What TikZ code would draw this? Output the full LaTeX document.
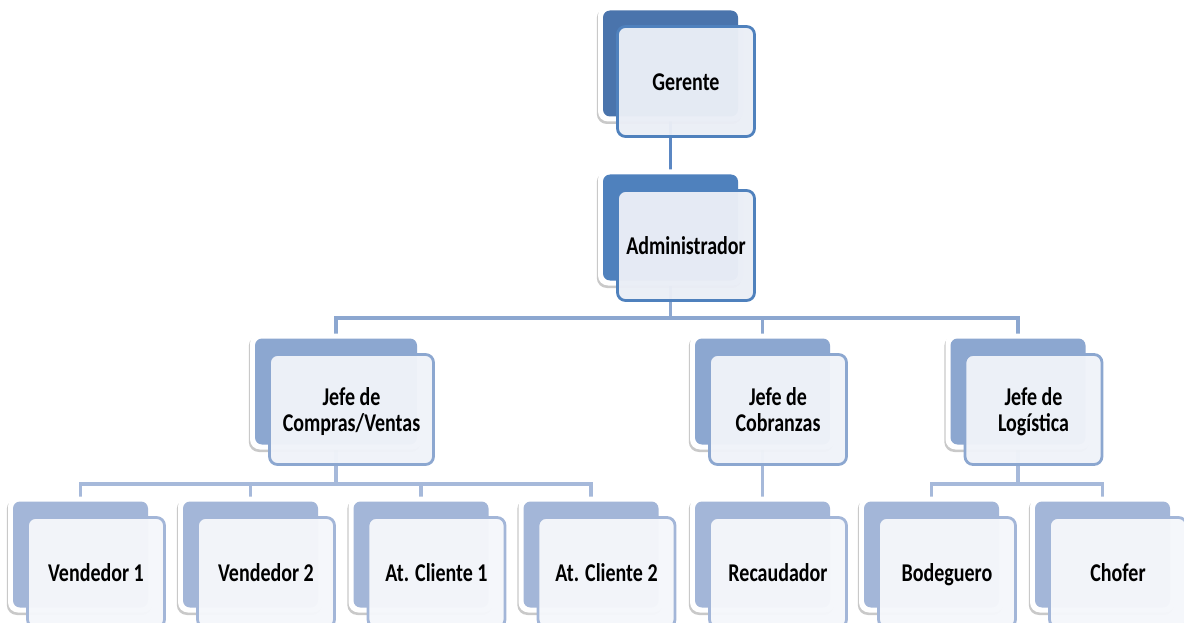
\documentclass[tikz,border=0pt]{standalone}
\usepackage{fontspec}
\setmainfont{Carlito}
\usetikzlibrary{shadows,calc}
\pgfdeclarelayer{bg}
\pgfsetlayers{bg,main}
\definecolor{back0}{HTML}{4A74AC}
\definecolor{back1}{HTML}{4F81BD}
\definecolor{back2}{HTML}{8CA7D0}
\definecolor{back3}{HTML}{A3B6D8}
\definecolor{fill0}{HTML}{EAEEF6}
\definecolor{fill2}{HTML}{F0F3F9}
\definecolor{fill3}{HTML}{F5F7FB}
\definecolor{line0}{HTML}{5B87C3}
\definecolor{line2}{HTML}{8CA7D0}
\definecolor{line3}{HTML}{A6B9DA}
\newcommand{\lbl}[1]{\raisebox{0pt}[\dimexpr\height+8pt\relax][\depth]{\scalebox{1}[1.28]{\begin{tabular}{@{}c@{}}#1\end{tabular}}}}
\begin{document}
\begin{tikzpicture}[x=1pt,y=-1pt,
  backbox/.style={rectangle, fill=white, rounded corners=10pt,
    minimum width=145pt, minimum height=116pt, inner sep=0pt,
    drop shadow={shadow xshift=-1.2pt, shadow yshift=-2.5pt, opacity=0.3, fill=black!70},
    path picture={\fill[#1, rounded corners=7pt]
      ([shift={(5pt,5pt)}]path picture bounding box.south west) rectangle
      ([shift={(-5pt,-5pt)}]path picture bounding box.north east);}},
  frontbox/.style={rectangle, rounded corners=8pt, draw=#1, line width=2.8pt,
    minimum width=137pt, minimum height=110pt, inner sep=0pt,
    font=\fontsize{20}{20}\selectfont\bfseries,
    fill opacity=0.97, text opacity=1},
  front0/.style={frontbox=back1, fill=fill0},
  front2/.style={frontbox=back2, fill=fill2},
  front3/.style={frontbox=back3, fill=fill3},
  conn/.style={line width=3.5pt, draw=#1}
]
\useasboundingbox (0,0) rectangle (1184,623);

% level 0 and 1
\node[backbox=back0] (g) at (670.5,63.5) {};
\node[front0] (gf) at ($(g)+(15.5,18)$) {\lbl{Gerente}};
\node[backbox=back1] (a) at (670.5,227.5) {};
\node[front0] (af) at ($(a)+(15.5,18)$) {\lbl{Administrador}};

% level 2
\node[backbox=back2, minimum width=172pt] (c) at (336,391.5) {};
\node[front2, minimum width=164pt] (cf) at ($(c)+(15.5,18)$) {\lbl{Jefe de\\Compras/Ventas}};
\node[backbox=back2] (k) at (762.5,391.5) {};
\node[front2] (kf) at ($(k)+(15.5,18)$) {\lbl{Jefe de\\Cobranzas}};
\node[backbox=back2] (l) at (1018,391.5) {};
\node[front2] (lf) at ($(l)+(15.5,18)$) {\lbl{Jefe de\\Logística}};

% level 3
\node[backbox=back3] (v1) at (80.5,554.5) {};
\node[front3] (v1f) at ($(v1)+(15.5,18)$) {\lbl{Vendedor 1}};
\node[backbox=back3] (v2) at (250.5,554.5) {};
\node[front3] (v2f) at ($(v2)+(15.5,18)$) {\lbl{Vendedor 2}};
\node[backbox=back3] (v3) at (421,554.5) {};
\node[front3] (v3f) at ($(v3)+(15.5,18)$) {\lbl{At. Cliente 1}};
\node[backbox=back3] (v4) at (591,554.5) {};
\node[front3] (v4f) at ($(v4)+(15.5,18)$) {\lbl{At. Cliente 2}};
\node[backbox=back3] (r) at (762.5,554.5) {};
\node[front3] (rf) at ($(r)+(15.5,18)$) {\lbl{Recaudador}};
\node[backbox=back3] (b) at (931.5,554.5) {};
\node[front3] (bf) at ($(b)+(15.5,18)$) {\lbl{Bodeguero}};
\node[backbox=back3] (ch) at (1102.5,554.5) {};
\node[front3] (chf) at ($(ch)+(15.5,18)$) {\lbl{Chofer}};

\coordinate (bus1) at (0,318);
\coordinate (bus2) at (0,484);

\begin{pgfonlayer}{bg}
  \draw[conn=line0] (g.center) -- (a.center);
  \draw[conn=line2] (a.center) -- (a.center |- bus1);
  \draw[conn=line2] (c.center) |- (l.center |- bus1) -- (l.center);
  \draw[conn=line2] (k.center) -- (k.center |- bus1);
  \draw[conn=line3] (c.center) -- (c.center |- bus2);
  \draw[conn=line3] (v1.center) |- (v4.center |- bus2) -- (v4.center);
  \draw[conn=line3] (v2.center) -- (v2.center |- bus2);
  \draw[conn=line3] (v3.center) -- (v3.center |- bus2);
  \draw[conn=line3] (k.center) -- (r.center);
  \draw[conn=line3] (l.center) -- (l.center |- bus2);
  \draw[conn=line3] (b.center) |- (ch.center |- bus2) -- (ch.center);
\end{pgfonlayer}
\end{tikzpicture}
\end{document}
